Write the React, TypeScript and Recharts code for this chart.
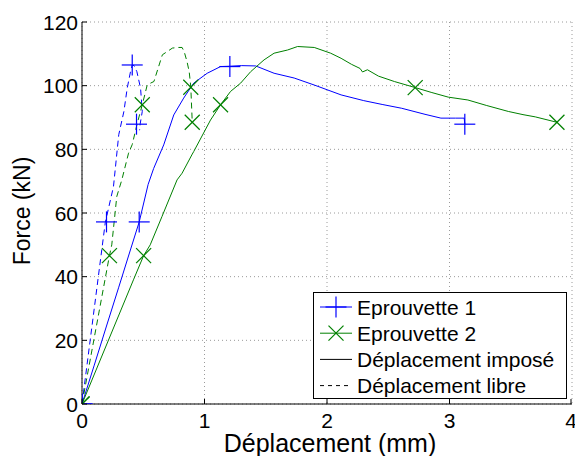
import React from "react";
import {
  ComposedChart, Line, Scatter, XAxis, YAxis, CartesianGrid, Legend, Label,
} from "recharts";

const FONT = '"Liberation Sans", Arial, Helvetica, sans-serif';
const BLUE = "#0000ff";
const GREEN = "#008000";

const xTicks = [0, 1, 2, 3, 4];
const yTicks = [0, 20, 40, 60, 80, 100, 120];
const xTitle = "Déplacement (mm)";
const yTitle = "Force (kN)";
const legendLabels = ["Eprouvette 1", "Eprouvette 2", "Déplacement imposé", "Déplacement libre"];

// Eprouvette 1, déplacement imposé
const e1ImpX = [0, 0.1, 0.2, 0.3, 0.4, 0.467, 0.54, 0.585, 0.667, 0.749, 0.83, 0.912, 1.022, 1.131, 1.207, 1.3, 1.418, 1.568, 1.732, 1.896, 2.115, 2.3, 2.45, 2.61, 2.8, 2.93, 3.05, 3.12, 3.125];
const e1ImpY = [0, 12.2, 24.5, 36.7, 49, 57.2, 69, 74, 81.4, 90.8, 96.1, 100.8, 103.9, 106, 106.1, 106.3, 106.2, 103.9, 102.4, 100.2, 97.1, 95.3, 94.1, 92.9, 91, 89.8, 89.8, 89.8, 87.9];
const e1ImpMarkX = [0, 0.467, 1.207, 3.125];
const e1ImpMarkY = [0, 57.2, 106, 87.9];

// Eprouvette 2, déplacement imposé
const e2ImpX = [0, 0.42, 0.503, 0.557, 0.653, 0.776, 0.817, 0.9, 0.912, 1.049, 1.131, 1.213, 1.295, 1.377, 1.486, 1.568, 1.678, 1.76, 1.896, 2.03, 2.115, 2.2, 2.27, 2.29, 2.33, 2.42, 2.55, 2.72, 2.85, 2.99, 3.15, 3.3, 3.48, 3.6, 3.7, 3.877];
const e2ImpY = [0, 39, 46.6, 50, 58.9, 70.4, 72.5, 78.5, 79.3, 89.2, 94, 98.2, 100.8, 104.4, 108.1, 110.2, 111.2, 112.3, 112, 110.2, 108.6, 106.7, 105.4, 104.3, 105, 103, 101.3, 99.4, 97.9, 96.4, 95.5, 93.8, 91.9, 90.9, 90.2, 88.5];
const e2ImpMarkX = [0, 0.503, 1.131, 2.72, 3.877];
const e2ImpMarkY = [0, 46.6, 94, 99.4, 88.5];

// Eprouvette 1, déplacement libre
const e1LibX = [0, 0.19, 0.257, 0.3, 0.342, 0.369, 0.396, 0.41, 0.425, 0.448, 0.478, 0.492, 0.475, 0.47];
const e1LibY = [0, 57, 68.3, 84.6, 91.9, 99.2, 104.4, 106.5, 106.3, 104.4, 99.2, 91.9, 88, 86];
const e1LibMarkX = [0, 0.2, 0.41, 0.445];
const e1LibMarkY = [0, 57.2, 106.5, 87.9];

// Eprouvette 2, déplacement libre
const e2LibX = [0, 0.224, 0.243, 0.284, 0.325, 0.38, 0.41, 0.45, 0.492, 0.533, 0.587, 0.656, 0.738, 0.779, 0.817, 0.834, 0.857, 0.875, 0.888, 0.9];
const e2LibY = [0, 46.6, 50, 65.2, 70.4, 78.8, 81.5, 88, 94, 100.3, 101.3, 109.7, 111.8, 112, 112, 110.7, 107.6, 104.4, 99.7, 88.5];
const e2LibMarkX = [0, 0.224, 0.492, 0.888, 0.9];
const e2LibMarkY = [0, 46.6, 94, 99.5, 88.5];

const pts = (xs: number[], ys: number[]) => xs.map((x, i) => ({ x, y: ys[i] }));

function Plus({ cx, cy, color }: { cx: number; cy: number; color: string }) {
  return (
    <g stroke={color} strokeWidth={1.2}>
      <line x1={cx - 10.5} x2={cx + 10.5} y1={cy} y2={cy} />
      <line x1={cx} x2={cx} y1={cy - 10.5} y2={cy + 10.5} />
    </g>
  );
}

function Cross({ cx, cy, color }: { cx: number; cy: number; color: string }) {
  return (
    <g stroke={color} strokeWidth={1.2}>
      <line x1={cx - 7.5} x2={cx + 7.5} y1={cy - 7.5} y2={cy + 7.5} />
      <line x1={cx - 7.5} x2={cx + 7.5} y1={cy + 7.5} y2={cy - 7.5} />
    </g>
  );
}

const BottomTick = ({ x, y, payload }: any) => (
  <g>
    <line x1={x} x2={x} y1={y} y2={y - 5} stroke="#000" />
    <text x={x} y={y + 24} textAnchor="middle" fontSize={21} fontFamily={FONT} fill="#000">{payload.value}</text>
  </g>
);
const TopTick = ({ x, y }: any) => <line x1={x} x2={x} y1={y} y2={y + 5} stroke="#000" />;
const LeftTick = ({ x, y, payload }: any) => (
  <g>
    <line x1={x} x2={x + 5} y1={y} y2={y} stroke="#000" />
    <text x={x - 4} y={y + 7.5} textAnchor="end" fontSize={21} fontFamily={FONT} fill="#000">{payload.value}</text>
  </g>
);
const RightTick = ({ x, y }: any) => <line x1={x} x2={x - 5} y1={y} y2={y} stroke="#000" />;

const XTitle = ({ viewBox }: any) => (
  <text x={viewBox.x + viewBox.width / 2 + 3} y={viewBox.y + 48} textAnchor="middle" fontSize={25} fontFamily={FONT} fill="#000">
    {xTitle}
  </text>
);
const YTitle = ({ viewBox }: any) => {
  const cx = viewBox.x + 8;
  const cy = viewBox.y + viewBox.height / 2 - 2;
  return (
    <text x={cx} y={cy} transform={`rotate(-90, ${cx}, ${cy})`} textAnchor="middle" fontSize={23} fontFamily={FONT} fill="#000">
      {yTitle}
    </text>
  );
};

function LegendBox() {
  const styles = [
    { color: BLUE, dash: undefined, mark: "plus" },
    { color: GREEN, dash: undefined, mark: "cross" },
    { color: "#000", dash: undefined, mark: "" },
    { color: "#000", dash: "4 4", mark: "" },
  ];
  return (
    <svg width={254} height={107} style={{ display: "block" }}>
      <rect x={0.5} y={0.5} width={253} height={106} fill="#fff" stroke="#000" />
      {legendLabels.map((label, i) => {
        const cy = 15 + i * 26.2;
        const s = styles[i];
        return (
          <g key={label}>
            <line x1={7} x2={39} y1={cy} y2={cy} stroke={s.color} strokeDasharray={s.dash} />
            {s.mark === "plus" && <Plus cx={23} cy={cy} color={s.color} />}
            {s.mark === "cross" && <Cross cx={23} cy={cy} color={s.color} />}
            <text x={44} y={cy + 7.5} fontSize={21} fontFamily={FONT} fill="#000">{label}</text>
          </g>
        );
      })}
    </svg>
  );
}

export default function App() {
  return (
    <div style={{ position: "absolute", left: 0, top: 0, background: "#fff" }}>
      <ComposedChart width={575} height={456} margin={{ top: 22, right: 3, bottom: 2, left: 22 }}>
        <CartesianGrid stroke="#9a9a9a" strokeDasharray="1 3" />
        <XAxis
          dataKey="x" type="number" domain={[0, 4]} ticks={xTicks} allowDataOverflow
          height={50} tickSize={0} tickMargin={0} tick={<BottomTick />} axisLine={{ stroke: "#000" }}
        >
          <Label content={<XTitle />} />
        </XAxis>
        <XAxis
          xAxisId="top" orientation="top" dataKey="x" type="number" domain={[0, 4]} ticks={xTicks} allowDataOverflow
          height={0} tickSize={0} tickMargin={0} tick={<TopTick />} axisLine={{ stroke: "#000" }}
        />
        <YAxis
          dataKey="y" type="number" domain={[0, 120]} ticks={yTicks} allowDataOverflow
          width={60} tickSize={0} tickMargin={0} tick={<LeftTick />} axisLine={{ stroke: "#000" }}
        >
          <Label content={<YTitle />} />
        </YAxis>
        <YAxis
          yAxisId="right" orientation="right" dataKey="y" type="number" domain={[0, 120]} ticks={yTicks} allowDataOverflow
          width={0} tickSize={0} tickMargin={0} tick={<RightTick />} axisLine={{ stroke: "#000" }}
        />

        <Line data={pts(e1ImpX, e1ImpY)} dataKey="y" type="linear" stroke={BLUE} strokeWidth={1} dot={false} activeDot={false} isAnimationActive={false} />
        <Line data={pts(e2ImpX, e2ImpY)} dataKey="y" type="linear" stroke={GREEN} strokeWidth={1} dot={false} activeDot={false} isAnimationActive={false} />
        <Line data={pts(e1LibX, e1LibY)} dataKey="y" type="linear" stroke={BLUE} strokeWidth={1} strokeDasharray="6 4" dot={false} activeDot={false} isAnimationActive={false} />
        <Line data={pts(e2LibX, e2LibY)} dataKey="y" type="linear" stroke={GREEN} strokeWidth={1} strokeDasharray="6 4" dot={false} activeDot={false} isAnimationActive={false} />

        <Scatter data={pts(e1ImpMarkX, e1ImpMarkY)} dataKey="y" isAnimationActive={false} shape={(p: any) => <Plus cx={p.cx} cy={p.cy} color={BLUE} />} />
        <Scatter data={pts(e1LibMarkX, e1LibMarkY)} dataKey="y" isAnimationActive={false} shape={(p: any) => <Plus cx={p.cx} cy={p.cy} color={BLUE} />} />
        <Scatter data={pts(e2ImpMarkX, e2ImpMarkY)} dataKey="y" isAnimationActive={false} shape={(p: any) => <Cross cx={p.cx} cy={p.cy} color={GREEN} />} />
        <Scatter data={pts(e2LibMarkX, e2LibMarkY)} dataKey="y" isAnimationActive={false} shape={(p: any) => <Cross cx={p.cx} cy={p.cy} color={GREEN} />} />

        <Legend
          layout="vertical" align="center" verticalAlign="middle" content={<LegendBox />}
          wrapperStyle={{ left: 313, top: 292, width: 254, height: 107 }}
        />
      </ComposedChart>
    </div>
  );
}
